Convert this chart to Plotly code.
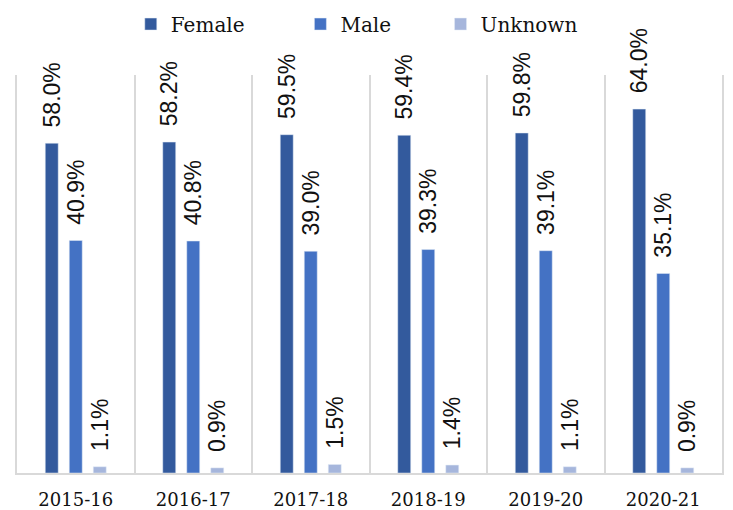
import plotly.graph_objects as go

categories = ["2015-16", "2016-17", "2017-18", "2018-19", "2019-20", "2020-21"]
female = [58.0, 58.2, 59.5, 59.4, 59.8, 64.0]
male = [40.9, 40.8, 39.0, 39.3, 39.1, 35.1]
unknown = [1.1, 0.9, 1.5, 1.4, 1.1, 0.9]
series = [("Female", female, "#335A9D", 8), ("Male", male, "#4472C4", 7), ("Unknown", unknown, "#A6B6DC", 6)]

xpos = list(range(len(categories)))
NB = "\u00a0"

fig = go.Figure()
for name, vals, color, pad in series:
    fig.add_trace(go.Bar(
        x=xpos, y=vals, name=name + NB * pad, marker_color=color,
        text=[NB * 2 + f"{v:.1f}%" for v in vals],
        textposition="outside", textangle=-90, constraintext="none", cliponaxis=False,
        textfont=dict(family="Liberation Sans", size=23, color="#111111"),
    ))

# page body has an 8px default margin, so the figure is sized to fit the window
fig.update_layout(
    width=725, height=502,
    margin=dict(l=9, r=11, t=67, b=37, autoexpand=False),
    paper_bgcolor="white", plot_bgcolor="white",
    barmode="group", bargap=0.387, bargroupgap=0.46,
    showlegend=True,
    legend=dict(orientation="h", x=0.5073, xref="container", xanchor="center",
                y=1.128, yref="paper", yanchor="middle",
                font=dict(family="DejaVu Serif", size=20, color="#111111"), traceorder="normal"),
    font=dict(family="DejaVu Serif", size=18, color="#111111"),
)
fig.update_xaxes(
    range=[-0.5, len(categories) - 0.5],
    tickmode="array", tickvals=xpos, ticktext=categories,
    showgrid=False, zeroline=False,
    showline=True, linecolor="#d9d9d9", linewidth=1.5,
    ticks="", ticklabelstandoff=10,
    tickfont=dict(family="DejaVu Serif", size=18, color="#111111"),
    minor=dict(tickmode="array", tickvals=[i - 0.5 for i in range(len(categories) + 1)],
               showgrid=True, gridcolor="#d9d9d9", gridwidth=1.5),
)
fig.update_yaxes(range=[0, 70], showticklabels=False, ticks="", showgrid=False, zeroline=False,
                 showline=True, mirror=True, linecolor="#d9d9d9", linewidth=1.5)

fig.write_html("out.html")
